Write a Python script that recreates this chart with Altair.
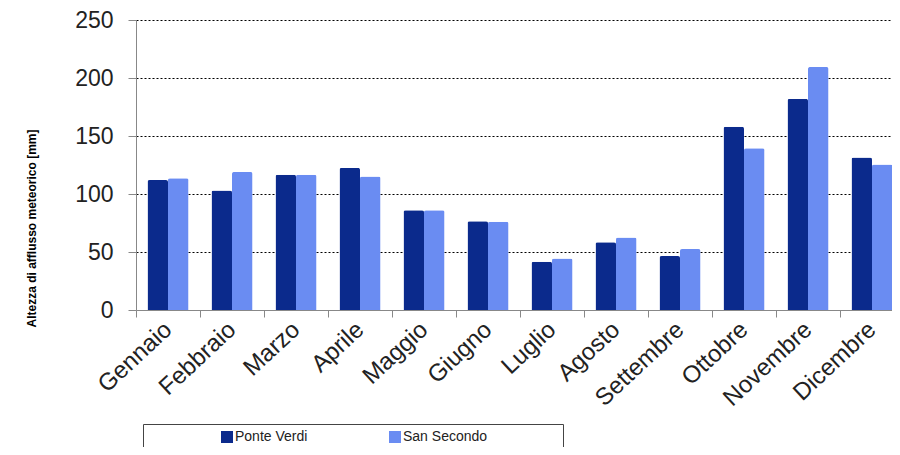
import altair as alt
import pandas as pd

months = ["Gennaio", "Febbraio", "Marzo", "Aprile", "Maggio", "Giugno",
          "Luglio", "Agosto", "Settembre", "Ottobre", "Novembre", "Dicembre"]
series = ["Ponte Verdi", "San Secondo"]
ponte_verdi = [112, 103, 116.5, 122.5, 86, 76.5, 41.5, 58.5, 46.5, 158, 182, 131.5]
san_secondo = [113.5, 119, 116.5, 115, 86, 76, 44.5, 62.5, 52.5, 139.5, 209.5, 125.5]
colors = ["#0B2A8C", "#6A8CF2"]
y_ticks = [0, 50, 100, 150, 200, 250]

rows = []
for m, a, b in zip(months, ponte_verdi, san_secondo):
    rows.append({"mese": m, "serie": series[0], "valore": a})
    rows.append({"mese": m, "serie": series[1], "valore": b})
df = pd.DataFrame(rows)

FONT = "Liberation Sans"

chart = alt.Chart(df).mark_bar(cornerRadiusEnd=2).encode(
    x=alt.X(
        "mese:N", sort=months,
        scale=alt.Scale(paddingInner=0, paddingOuter=0),
        axis=alt.Axis(
            title=None, labelAngle=317, labelAlign="right", labelBaseline="middle",
            labelFont=FONT, labelFontSize=24, labelColor="#222", labelPadding=9,
            tickSize=7, tickBand="extent", tickColor="#888", domainColor="#888",
            grid=False, labelOverlap=False,
        ),
    ),
    xOffset=alt.XOffset("serie:N", sort=series,
                        scale=alt.Scale(paddingInner=0, paddingOuter=0.56)),
    y=alt.Y(
        "valore:Q",
        scale=alt.Scale(domain=[0, 250], nice=False),
        axis=alt.Axis(
            values=y_ticks, title="Altezza di afflusso meteorico [mm]",
            labelFont=FONT, labelFontSize=23, labelColor="#222", labelPadding=15,
            tickSize=8, tickColor="#888", domainColor="#888",
            grid=True, gridColor="#000", gridDash=[2, 2], gridWidth=1,
            gridOpacity=alt.condition("datum.value === 0", alt.value(0), alt.value(1)),
            titleFont=FONT, titleFontWeight="bold", titleFontSize=12, titleColor="#000",
            titleAngle=270, titleX=-105, titleY=208, titleAlign="center",
            titleBaseline="middle",
        ),
    ),
    color=alt.Color(
        "serie:N", sort=series,
        scale=alt.Scale(domain=series, range=colors),
        legend=alt.Legend(
            title=" ", titleOrient="right", titlePadding=70, titleFontSize=14,
            orient="none", legendX=7, legendY=404, direction="horizontal",
            symbolType="square", symbolSize=144, symbolStrokeWidth=0,
            symbolOffset=71, labelOffset=1, columnPadding=9,
            labelFont=FONT, labelFontSize=14, labelColor="#222",
            padding=6, strokeColor="#444", fillColor="white",
        ),
    ),
).properties(
    width=768, height=290,
    padding={"left": 128, "top": 12, "right": -12, "bottom": 137},
    autosize=alt.AutoSizeParams(type="none"),
).configure_view(strokeWidth=0)

chart.save("out.html", embed_options={"renderer": "svg", "actions": False})
